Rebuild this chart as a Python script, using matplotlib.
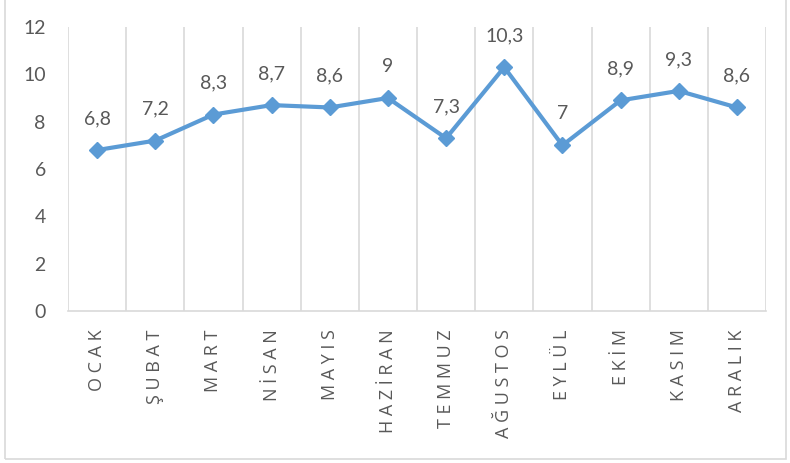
import matplotlib.pyplot as plt
from matplotlib.patches import Rectangle

aylar = ["OCAK", "ŞUBAT", "MART", "NİSAN", "MAYIS", "HAZİRAN",
         "TEMMUZ", "AĞUSTOS", "EYLÜL", "EKİM", "KASIM", "ARALIK"]
degerler = [6.8, 7.2, 8.3, 8.7, 8.6, 9, 7.3, 10.3, 7, 8.9, 9.3, 8.6]
y_ticks = [0, 2, 4, 6, 8, 10, 12]

mavi = "#5B9BD5"
gri = "#595959"
cizgi = "#D9D9D9"

fig = plt.figure(figsize=(7.9, 4.63), dpi=100)
ax = fig.add_axes([68/790, 152/463, 698/790, 284/463])

x = list(range(len(aylar)))
ax.plot(x, degerler, color=mavi, lw=3, marker="D", markersize=8.5,
        solid_capstyle="round", zorder=3)

for xi, v in zip(x, degerler):
    etiket = f"{v:g}".replace(".", ",")
    ax.annotate(etiket, (xi, v), xytext=(0, 16.5), textcoords="offset points",
                ha="center", va="bottom", fontsize=14, color=gri,
                family="Lato")

ax.set_xlim(-0.5, len(aylar) - 0.5)
ax.set_ylim(0, 12)
ax.set_yticks(y_ticks)
ax.set_yticklabels([str(t) for t in y_ticks], fontsize=14, color=gri,
                   family="Lato")
ax.tick_params(axis="y", length=0, pad=16)

# dikey kılavuz çizgileri kategori sınırlarında
for b in range(len(aylar) + 1):
    ax.axvline(b - 0.5, color=cizgi, lw=1.2, zorder=1)

ax.set_xticks(x)
ax.set_xticklabels([])
ax.tick_params(axis="x", length=0)
for xi, ad in zip(x, aylar):
    ax.text(xi, -0.78, " ".join(ad), rotation=90, ha="center", va="top",
            fontsize=13, color=gri, family="Open Sans")

for s in ["top", "left", "right"]:
    ax.spines[s].set_visible(False)
ax.spines["bottom"].set_color(cizgi)
ax.spines["bottom"].set_linewidth(1.2)

fig.patches.append(Rectangle((5/790, 4/463), 781/790, 470/463,
                             transform=fig.transFigure, fill=False,
                             edgecolor=cizgi, lw=1.2))

fig.savefig("out.png", dpi=100)
